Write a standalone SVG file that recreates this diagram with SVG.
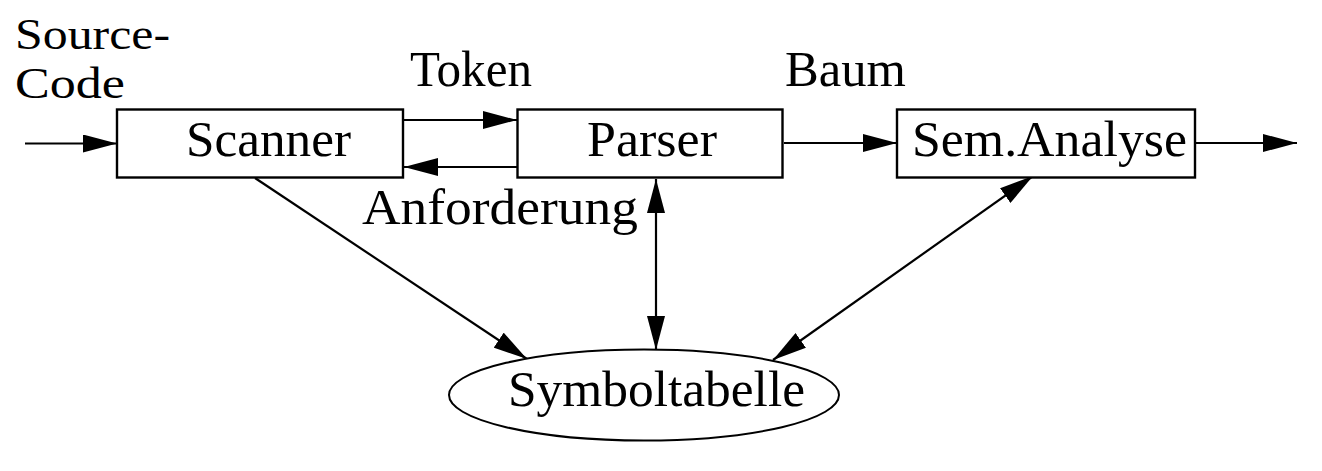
<svg xmlns="http://www.w3.org/2000/svg" width="1322" height="471" viewBox="0 0 1322 471">
<defs>
<marker id="ah" markerUnits="userSpaceOnUse" markerWidth="34" markerHeight="18" refX="34" refY="9" orient="auto-start-reverse" viewBox="0 0 34 18">
<path d="M0,0 L34,9 L0,18 z" fill="#000"/>
</marker>
<style>
text{font-family:"Liberation Serif","DejaVu Serif",serif;font-size:50px;fill:#000}
.sm{font-size:44px}
.box{fill:#fff;stroke:#000;stroke-width:2.4}
.c{fill:none;stroke:#000;stroke-width:2.2}
</style>
</defs>
<rect width="1322" height="471" fill="#fff"/>
<g id="connectors">
<line class="c" x1="25" y1="143.5" x2="117" y2="143.5" marker-end="url(#ah)"/>
<line class="c" x1="403" y1="120" x2="517" y2="120" marker-end="url(#ah)"/>
<line class="c" x1="517" y1="167" x2="404" y2="167" marker-end="url(#ah)"/>
<line class="c" x1="784" y1="143" x2="897" y2="143" marker-end="url(#ah)"/>
<line class="c" x1="1195" y1="143" x2="1297" y2="143" marker-end="url(#ah)"/>
<line class="c" x1="255" y1="178" x2="527" y2="359" marker-end="url(#ah)"/>
<line class="c" x1="656" y1="179" x2="656" y2="350" marker-start="url(#ah)" marker-end="url(#ah)"/>
<line class="c" x1="1033" y1="176" x2="773" y2="360" marker-start="url(#ah)" marker-end="url(#ah)"/>
</g>
<g id="labels">
<text class="sm" x="15" y="49" textLength="155" lengthAdjust="spacingAndGlyphs">Source-</text>
<text class="sm" x="15" y="98" textLength="110" lengthAdjust="spacingAndGlyphs">Code</text>
<text x="410" y="86" textLength="122" lengthAdjust="spacingAndGlyphs">Token</text>
<text x="785" y="86" textLength="121" lengthAdjust="spacingAndGlyphs">Baum</text>
<text x="362" y="224" textLength="276" lengthAdjust="spacingAndGlyphs">Anforderung</text>
</g>
<g id="scanner">
<rect class="box" x="117" y="109.5" width="286" height="68"/>
<text x="186" y="156" textLength="165" lengthAdjust="spacingAndGlyphs">Scanner</text>
</g>
<g id="parser">
<rect class="box" x="517.5" y="109.5" width="265" height="68"/>
<text x="587" y="156" textLength="130" lengthAdjust="spacingAndGlyphs">Parser</text>
</g>
<g id="semanalyse">
<rect class="box" x="897" y="109.5" width="298" height="68"/>
<text x="912" y="156" textLength="275" lengthAdjust="spacingAndGlyphs">Sem.Analyse</text>
</g>
<g id="symboltabelle">
<ellipse class="box" cx="644" cy="395" rx="195" ry="45.5" style="stroke-width:2"/>
<text x="508" y="406" textLength="297" lengthAdjust="spacingAndGlyphs">Symboltabelle</text>
</g>
</svg>
